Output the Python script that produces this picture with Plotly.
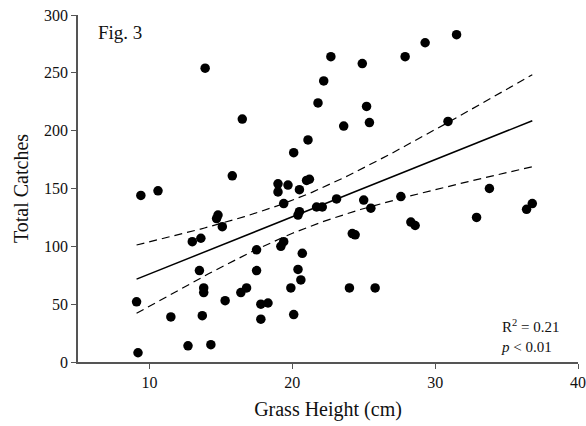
import numpy as np
import plotly.graph_objects as go

# Data
grass_height = [9.2, 9.1, 9.4, 10.6, 11.5, 12.7, 13.0, 13.6, 13.5, 13.8, 13.8, 13.7,
                14.3, 13.9, 14.7, 14.8, 15.1, 15.3, 15.8, 16.5, 16.4, 16.8, 17.5, 17.5,
                17.8, 18.3, 17.8, 19.0, 19.0, 19.7, 19.4, 19.2, 19.4, 19.9, 20.1, 20.1,
                20.5, 20.4, 20.6, 20.7, 20.4, 20.5, 21.0, 21.2, 21.1, 21.8, 21.7, 22.1,
                22.2, 22.7, 23.1, 23.6, 24.0, 24.2, 24.4, 24.9, 25.0, 25.2, 25.4, 25.5,
                25.8, 27.6, 27.9, 28.3, 28.6, 29.3, 30.9, 31.5, 32.9, 33.8, 36.4, 36.8]
total_catches = [8, 52, 144, 148, 39, 14, 104, 107, 79, 64, 60, 40,
                 15, 254, 124, 127, 117, 53, 161, 210, 60, 64, 97, 79,
                 50, 51, 37, 154, 147, 153, 137, 100, 104, 64, 41, 181,
                 149, 80, 71, 94, 127, 130, 157, 158, 192, 224, 134, 134,
                 243, 264, 141, 204, 64, 111, 110, 258, 140, 221, 207, 133,
                 64, 143, 264, 121, 118, 276, 208, 283, 125, 150, 132, 137]

x_ticks = [10, 20, 30, 40]
y_ticks = [0, 50, 100, 150, 200, 250, 300]
t_crit = 1.994  # two-sided 95%, df = n - 2

x = np.array(grass_height)
y = np.array(total_catches)
n = len(x)
slope, intercept = np.polyfit(x, y, 1)
resid = y - (slope * x + intercept)
s = np.sqrt(np.sum(resid ** 2) / (n - 2))
xf = np.linspace(x.min(), x.max(), 100)
yf = slope * xf + intercept
se = s * np.sqrt(1.0 / n + (xf - x.mean()) ** 2 / np.sum((x - x.mean()) ** 2))
upper = yf + t_crit * se
lower = yf - t_crit * se

font = "Liberation Serif, Times New Roman, serif"
txt = "#111111"

fig = go.Figure()
fig.add_trace(go.Scatter(x=xf, y=upper, mode="lines",
                         line=dict(color="black", width=1.2, dash="8px,5px"),
                         hoverinfo="skip", showlegend=False))
fig.add_trace(go.Scatter(x=xf, y=lower, mode="lines",
                         line=dict(color="black", width=1.2, dash="8px,5px"),
                         hoverinfo="skip", showlegend=False))
fig.add_trace(go.Scatter(x=xf, y=yf, mode="lines",
                         line=dict(color="black", width=1.5),
                         hoverinfo="skip", showlegend=False))
fig.add_trace(go.Scatter(x=grass_height, y=total_catches, mode="markers",
                         marker=dict(color="black", size=9.5),
                         showlegend=False))

axis_common = dict(showgrid=False, zeroline=False, showline=True,
                   linecolor="#555555", linewidth=1.5, ticks="outside",
                   ticklen=5, tickwidth=1.2, tickcolor="#555555",
                   automargin=False,
                   tickfont=dict(family=font, size=16, color=txt))

fig.update_xaxes(range=[5, 40], tickvals=x_ticks, **axis_common,
                 title=dict(text="Grass Height (cm)", standoff=12,
                            font=dict(family=font, size=20, color=txt)))
fig.update_yaxes(range=[0, 300], tickvals=y_ticks, **axis_common,
                 title=dict(text="Total Catches", standoff=10,
                            font=dict(family=font, size=20, color=txt)))

fig.add_annotation(text="Fig. 3", xref="paper", yref="paper", x=0.035, y=0.985,
                   xanchor="left", yanchor="top", showarrow=False,
                   font=dict(family=font, size=19, color=txt))
fig.add_annotation(text="R<sup>2</sup> = 0.21<br><i>p</i> < 0.01",
                   xref="paper", yref="paper", x=0.965, y=0.015,
                   xanchor="right", yanchor="bottom", align="left",
                   showarrow=False,
                   font=dict(family=font, size=15, color=txt))

fig.update_layout(width=586, height=426, plot_bgcolor="white",
                  paper_bgcolor="white",
                  margin=dict(l=78, r=8, t=15, b=64))

fig.write_html("out.html")
